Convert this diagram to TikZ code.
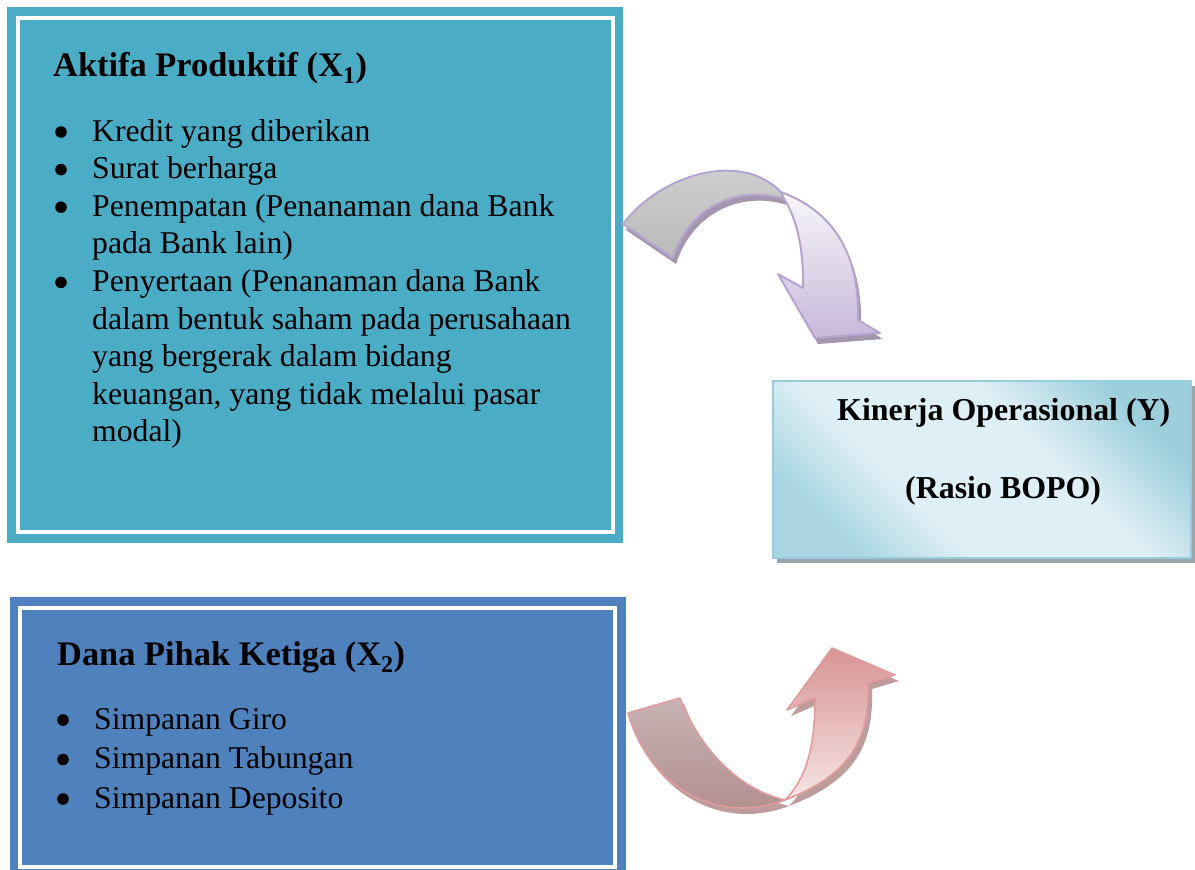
\documentclass[tikz,border=0pt]{standalone}
\usepackage{fontspec}
\setmainfont{Liberation Serif}
\definecolor{aqua}{HTML}{4BACC6}
\definecolor{blueb}{HTML}{4F81BD}
\definecolor{kinlight}{HTML}{DEEFF5}
\definecolor{kindark}{HTML}{9CCEDC}
\definecolor{kindark2}{HTML}{A9D6E2}
\definecolor{kinedge}{HTML}{96CCDB}
\definecolor{kinshadow}{HTML}{9AA6AB}
\definecolor{purpedge}{HTML}{B6A4D0}
\definecolor{purpshadow}{HTML}{A596B0}
\definecolor{purptop}{HTML}{F8F6FA}
\definecolor{purpbot}{HTML}{C7B9DA}
\definecolor{greytop}{HTML}{D2D2D2}
\definecolor{greybot}{HTML}{BABABA}
\definecolor{rededge}{HTML}{E09C9C}
\definecolor{redshadow}{HTML}{BE9C9C}
\definecolor{pinktop}{HTML}{D89494}
\definecolor{pinkbot}{HTML}{F6E4E4}
\definecolor{mauvetop}{HTML}{C8B3B3}
\definecolor{mauvebot}{HTML}{B08A8C}
\pgfdeclareverticalshading{kinshade}{100bp}{color(0bp)=(kindark2); color(25bp)=(kindark2); color(38bp)=(kinlight); color(60bp)=(kinlight); color(75bp)=(kindark); color(100bp)=(kindark)}
\def\PAband{(623,224) .. controls (660,175) and (740,150) .. (781,192) -- (784,199) .. controls (740,185) and (690,205) .. (673,258) -- cycle}
\def\PAhead{(781,192) .. controls (830,210) and (860,250) .. (858,320) -- (880,333) -- (815,338) -- (778,274) -- (803,288) .. controls (804,245) and (795,215) .. (784,199) -- cycle}
\def\RAband{(628,713) .. controls (650,790) and (720,825) .. (785,800) .. controls (740,790) and (700,750) .. (680,698) -- cycle}
\def\RAhead{(785,800) .. controls (850,775) and (870,740) .. (868,683) -- (895,675) -- (832,648) -- (787,710) -- (815,698) .. controls (815,750) and (805,780) .. (785,800) -- cycle}
\begin{document}
\begin{tikzpicture}[x=1pt,y=-1pt,
  txt/.style={anchor=base west, inner sep=0pt, font=\fontsize{31.7}{37.6}\selectfont},
  ttl/.style={anchor=base west, inner sep=0pt, font=\fontsize{34.4}{40}\selectfont\bfseries},
  kin/.style={anchor=base west, inner sep=0pt, font=\fontsize{31.9}{38}\selectfont\bfseries},
  outerbox/.style={draw=none, inner sep=0pt, outer sep=0pt},
  whiteline/.style={draw=white, line width=4pt},
  bul/.style={fill=black}]
\useasboundingbox (0,0) rectangle (1195,870);
\clip (0,0) rectangle (1195,870);
% box 1
\node[outerbox, fill=aqua, minimum width=616pt, minimum height=536pt] (b1) at (315,275) {};
\draw[whiteline] ([shift={(11,11)}]b1.north west) rectangle ([shift={(-10.5,-11)}]b1.south east);
% box 2
\node[outerbox, fill=blueb, minimum width=616pt, minimum height=281pt] (b2) at (317.5,737.5) {};
\draw[whiteline] ([shift={(10.5,10.5)}]b2.north west) rectangle ([shift={(-10.5,-11)}]b2.south east);
% box 3
\fill[kinshadow] (777,386) rectangle (1195,563);
\node[outerbox, minimum width=418pt, minimum height=177pt] (b3) at (982,469.5) {};
\shade[shading=kinshade, shading angle=-45] (b3.north west) rectangle (b3.south east);
\draw[kinedge, line width=1.2pt] (b3.north west) rectangle (b3.south east);
% purple arrow
\fill[purpshadow, shift={(3,6)}] \PAband;
\fill[purpshadow, shift={(3,6)}] \PAhead;
\shade[top color=greytop, bottom color=greybot, draw=purpedge, line width=2pt, line join=round] \PAband;
\shade[top color=purptop, bottom color=purpbot, draw=purpedge, line width=2pt, line join=round] \PAhead;
% red arrow
\fill[redshadow, shift={(4,6)}] \RAband;
\fill[redshadow, shift={(4,6)}] \RAhead;
\shade[top color=mauvetop, bottom color=mauvebot, draw=rededge, line width=1.6pt, line join=round] \RAband;
\shade[top color=pinktop, bottom color=pinkbot, draw=rededge, line width=1.6pt, line join=round] \RAhead;
% box 1 text
\node[ttl] (t1) at (53,76) {Aktifa Produktif (X\textsubscript{1})};
\node[txt] (l1) at (92,141) {Kredit yang diberikan};
\node[txt] (l2) at (92,178.6) {Surat berharga};
\node[txt] (l3) at (92,216.2) {Penempatan (Penanaman dana Bank};
\node[txt] (l4) at (92,253.8) {pada Bank lain)};
\node[txt] (l5) at (92,291.4) {Penyertaan (Penanaman dana Bank};
\node[txt] (l6) at (92,329) {dalam bentuk saham pada perusahaan};
\node[txt] (l7) at (92,366.6) {yang bergerak dalam bidang};
\node[txt] (l8) at (92,404.2) {keuangan, yang tidak melalui pasar};
\node[txt] (l9) at (92,441.8) {modal)};
\foreach \yy in {141,178.6,216.2,291.4} \fill[bul] (61,\yy-9) circle (5.8pt);
% box 2 text
\node[ttl] (t2) at (57,665) {Dana Pihak Ketiga (X\textsubscript{2})};
\node[txt] (m1) at (94,729) {Simpanan Giro};
\node[txt] (m2) at (94,768.5) {Simpanan Tabungan};
\node[txt] (m3) at (94,808) {Simpanan Deposito};
\foreach \yy in {729,768.5,808} \fill[bul] (63,\yy-9) circle (5.8pt);
% box 3 text
\node[kin] (k1) at (837,420) {Kinerja Operasional (Y)};
\node[kin] (k2) at (905,498) {(Rasio BOPO)};
\end{tikzpicture}
\end{document}
